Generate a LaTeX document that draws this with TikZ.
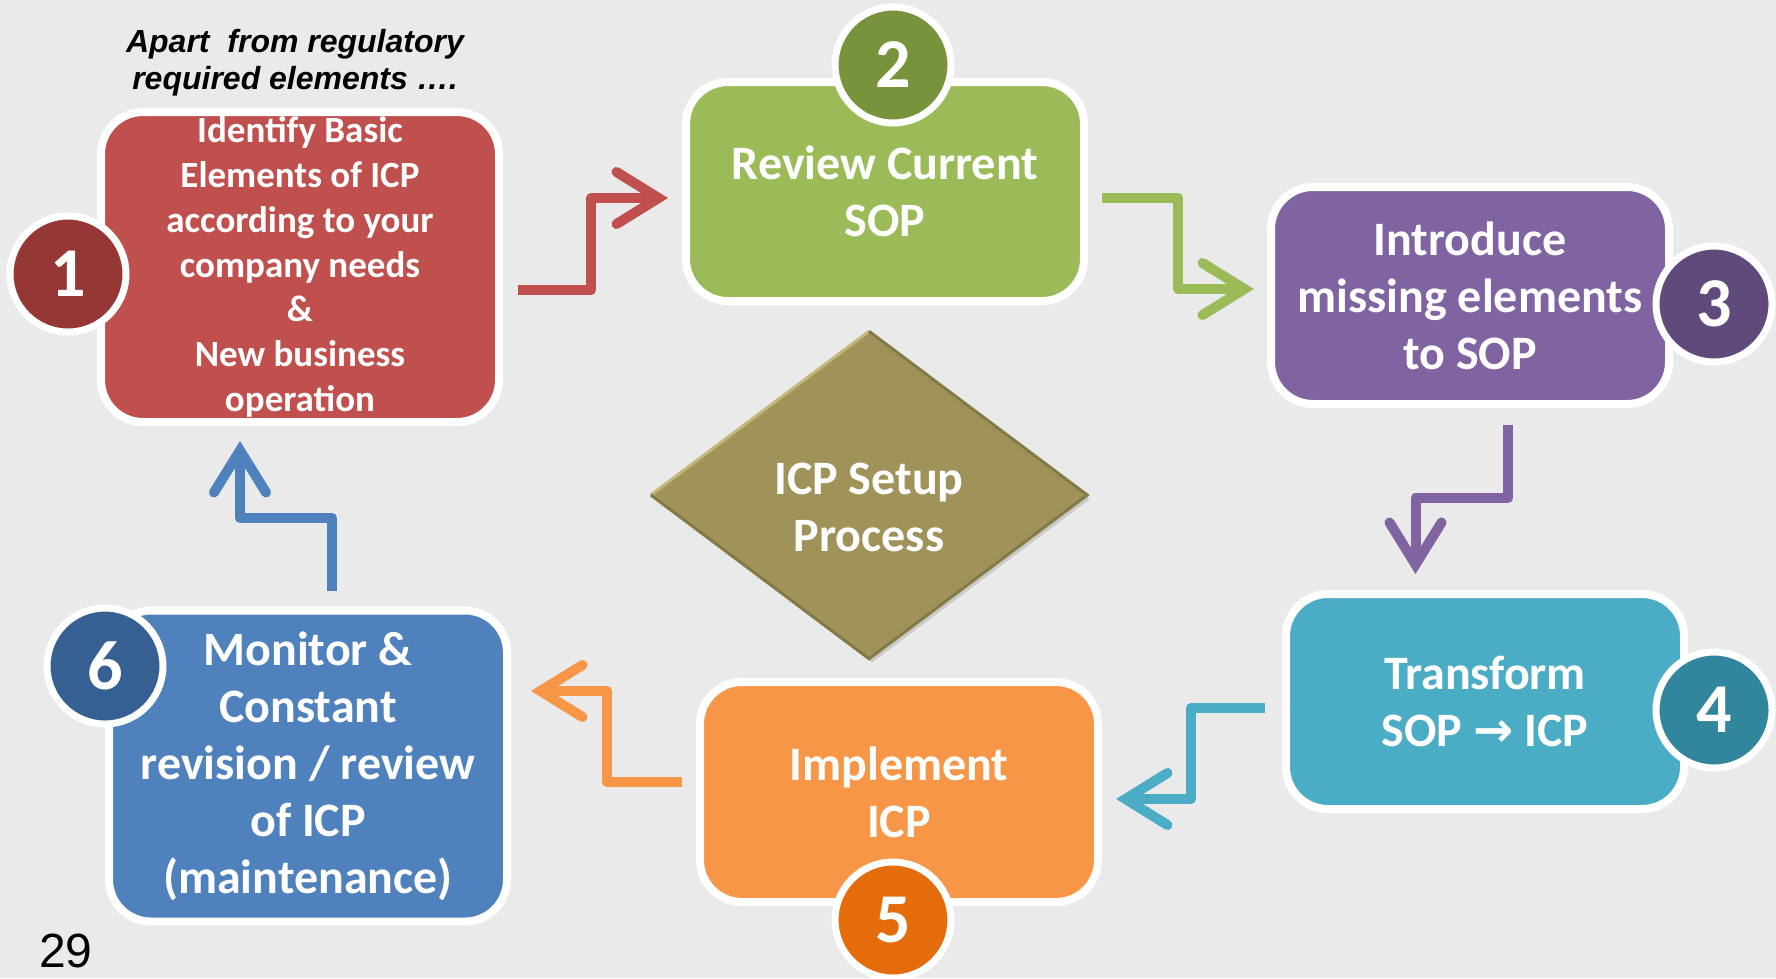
\documentclass[tikz,border=0pt]{standalone}
\usepackage{fontspec}
\setmainfont{Carlito}
\newfontfamily\notefont{Liberation Sans}
\newfontfamily\symfont{DejaVu Sans}
\usetikzlibrary{arrows.meta, calc, shapes.geometric, shadows}

\definecolor{bgGrey}{HTML}{EAEAEA}
\definecolor{redBox}{HTML}{C0504D}
\definecolor{redDot}{HTML}{953735}
\definecolor{greenBox}{HTML}{9BBB59}
\definecolor{greenDot}{HTML}{77933C}
\definecolor{violetBox}{HTML}{8064A2}
\definecolor{violetDot}{HTML}{604A7B}
\definecolor{tealBox}{HTML}{4BACC6}
\definecolor{tealDot}{HTML}{31859C}
\definecolor{orangeBox}{HTML}{F79646}
\definecolor{orangeDot}{HTML}{E46C0A}
\definecolor{blueBox}{HTML}{4F81BD}
\definecolor{blueDot}{HTML}{376092}
\definecolor{oliveMid}{HTML}{9F935A}
\definecolor{oliveLt}{HTML}{C2B67A}
\definecolor{oliveDk}{HTML}{857A45}

\begin{document}
\begin{tikzpicture}[x=1pt, y=-1pt,
    stepbox/.style={rounded corners=42pt, draw=white, line width=8pt, outer sep=0pt,
        minimum width=398pt, inner sep=0pt, text=white, align=center,
        font=\fontsize{48}{57}\selectfont\bfseries},
    numdot/.style={circle, draw=white, line width=7pt, minimum size=116pt, inner sep=0pt,
        text=white, font=\fontsize{70}{70}\selectfont\bfseries},
    flow/.style={draw=#1, line width=10pt, line join=round,
        -{Straight Barb[length=42pt, width=52pt, line cap=round, line join=miter]}}]

    % Page:
    \useasboundingbox (0,0) rectangle (1776,978);
    \clip (0,0) rectangle (1776,978);
    \fill[bgGrey] (0,0) rectangle (1776,978);

    % Steps:
    \node[stepbox, fill=redBox, minimum height=310pt,
          font=\fontsize{37}{44.8}\selectfont\bfseries] (b1) at (300,267)
        {Identify Basic\\Elements of ICP\\according to your\\company needs\\\&\\New business\\operation};
    \node[stepbox, fill=greenBox, minimum height=219pt] (b2) at (885,191.5) {Review Current\\SOP};
    \node[stepbox, fill=violetBox, minimum height=217pt] (b3) at (1470,295.5)
        {Introduce\\missing elements\\to SOP};
    \node[stepbox, fill=tealBox, minimum height=215pt] (b4) at (1485,701.5)
        {Transform\\SOP {\symfont →} ICP};
    \node[stepbox, fill=orangeBox, minimum height=220pt] (b5) at (899,792) {Implement\\ICP};
    \node[stepbox, fill=blueBox, minimum height=311pt] (b6) at (308,766)
        {Monitor \&\\Constant\\revision / review\\of ICP\\(maintenance)};

    % Step numbers:
    \node[numdot, fill=redDot] (n1) at (68,274) {1};
    \node[numdot, fill=greenDot] (n2) at (893,65) {2};
    \node[numdot, fill=violetDot] (n3) at (1714,304) {3};
    \node[numdot, fill=tealDot] (n4) at (1714,710) {4};
    \node[numdot, fill=orangeDot] (n5) at (893,920) {5};
    \node[numdot, fill=blueDot] (n6) at (105,666) {6};

    % Arrows between the steps:
    \draw[flow=redBox] ($(b1.east)+(19,23)$) -| ($(b2.west)+(-95,6.5)$) -- ($(b2.west)+(-18,6.5)$);
    \draw[flow=greenBox] ($(b2.east)+(18,6.5)$) -| ($(b3.west)+(-93,-6.5)$) -- ($(b3.west)+(-17,-6.5)$);
    \draw[flow=violetBox] ($(b3.south)+(38,21)$) |- ($(b4.north)+(-69.5,-96)$) -- ($(b4.north)+(-69.5,-20)$);
    \draw[flow=tealBox] ($(b4.west)+(-21,6.5)$) -| ($(b5.east)+(93,7)$) -- ($(b5.east)+(18,7)$);
    \draw[flow=orangeBox] ($(b5.west)+(-18,-10)$) -| ($(b6.east)+(100,-75)$) -- ($(b6.east)+(24,-75)$);
    \draw[flow=blueBox] ($(b6.north)+(24,-20)$) |- ($(b1.south)+(-60,96)$) -- ($(b1.south)+(-60,19)$);

    % Centre diamond:
    \node[diamond, aspect=1.33, minimum width=436pt, minimum height=327pt, inner sep=0pt,
          fill=oliveMid, drop shadow={shadow xshift=3pt, shadow yshift=-4pt, opacity=.3}] (core) at (869,495) {};
    \draw[oliveLt, line width=3pt] (core.west) -- (core.north);
    \draw[oliveDk, line width=3pt] (core.north) -- (core.east) -- (core.south) -- (core.west);
    \node[text=white, font=\fontsize{48}{57}\selectfont\bfseries, align=center] (coretext)
        at ($(core.center)+(0,12)$) {ICP Setup\\Process};

    % Notes:
    \node[font=\notefont\fontsize{32}{37}\selectfont\bfseries\itshape, align=center] (note) at (295,63)
        {Apart\ \ from regulatory\\required elements ….};
    \node[font=\notefont\fontsize{48}{48}\selectfont] (pagenum) at (66,951) {29};
\end{tikzpicture}
\end{document}
